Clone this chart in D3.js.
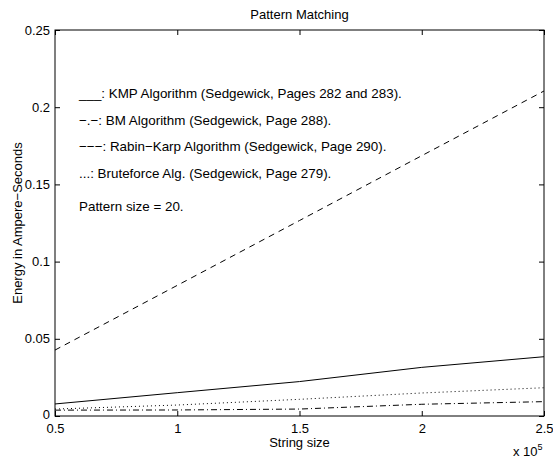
<!DOCTYPE html>
<html>
<head>
<meta charset="utf-8">
<script src="https://cdn.jsdelivr.net/npm/d3@7"></script>
<style>
  html, body { margin: 0; padding: 0; background: #fff; }
  svg { display: block; }
  text { font-family: "Liberation Sans", Arial, Helvetica, sans-serif; fill: #000; }
</style>
</head>
<body>
<svg id="chart" width="553" height="459"></svg>
<script>
// ---- data (string size in units of 10^5) ----
const stringSizes = [0.5, 1, 1.5, 2, 2.5];
const kmp        = [0.0078, 0.0151, 0.0223, 0.0315, 0.0384];
const bm         = [0.0038, 0.0039, 0.0045, 0.0076, 0.0093];
const rabinKarp  = [0.0427, 0.0846, 0.1266, 0.1686, 0.2105];
const bruteforce = [0.0045, 0.0071, 0.0108, 0.0149, 0.0183];

const xTicks = [0.5, 1, 1.5, 2, 2.5];
const xTickLabels = ["0.5", "1", "1.5", "2", "2.5"];
const yTicks = [0, 0.05, 0.1, 0.15, 0.2, 0.25];
const yTickLabels = ["0", "0.05", "0.1", "0.15", "0.2", "0.25"];

const legendLines = [
  "___: KMP Algorithm (Sedgewick, Pages 282 and 283).",
  "\u2212.\u2212: BM Algorithm (Sedgewick, Page 288).",
  "\u2212\u2212\u2212: Rabin\u2212Karp Algorithm (Sedgewick, Page 290).",
  "...: Bruteforce Alg. (Sedgewick, Page 279)."
];
const noteText = "Pattern size = 20.";
const titleText = "Pattern Matching";
const xLabel = "String size";
const yLabel = "Energy in Ampere\u2212Seconds";

const series = [
  { values: kmp,        dash: null },
  { values: bm,         dash: "6,3,1,3" },
  { values: rabinKarp,  dash: "6,5" },
  { values: bruteforce, dash: "1,3" }
];

// ---- layout ----
const L = 55, R = 544, T = 30, B = 416;
const svg = d3.select("#chart");
svg.append("rect").attr("width", 553).attr("height", 459).attr("fill", "#fff");

const x = d3.scaleLinear().domain([0.5, 2.5]).range([L, R]);
const y = d3.scaleLinear().domain([0, 0.25]).range([B, T]);

const fs = 13;
const legendFs = 13.4;

// axes (inward ticks)
const xAxis = d3.axisBottom(x).tickValues(xTicks)
  .tickFormat((d, i) => xTickLabels[i]).tickSize(-5).tickPadding(8);
const yAxis = d3.axisLeft(y).tickValues(yTicks)
  .tickFormat((d, i) => yTickLabels[i]).tickSize(-5).tickPadding(5);
const xTop = d3.axisTop(x).tickValues(xTicks).tickFormat("").tickSize(-5);
const yRight = d3.axisRight(y).tickValues(yTicks).tickFormat("").tickSize(-5);

function style(g) {
  g.select(".domain").remove();
  g.selectAll("line").attr("stroke", "#000").attr("stroke-width", 1);
  g.selectAll("text").attr("font-size", fs)
    .attr("font-family", "'Liberation Sans', Arial, Helvetica, sans-serif").attr("fill", "#000");
}
svg.append("g").attr("transform", `translate(0,${B})`).call(xAxis).call(style);
const yg = svg.append("g").attr("transform", `translate(${L},0)`).call(yAxis).call(style);
// the "0" label sits slightly above the axis corner, as in the reference
yg.selectAll(".tick text").filter(d => d === 0).attr("dy", "0.2em");
svg.append("g").attr("transform", `translate(0,${T})`).call(xTop).call(style);
svg.append("g").attr("transform", `translate(${R},0)`).call(yRight).call(style);

// box
svg.append("rect").attr("x", L).attr("y", T).attr("width", R - L).attr("height", B - T)
  .attr("fill", "none").attr("stroke", "#000").attr("stroke-width", 1);

// lines
const line = d3.line().x((d, i) => x(stringSizes[i])).y(d => y(d));
svg.append("g").selectAll("path").data(series).join("path")
  .attr("d", d => line(d.values))
  .attr("fill", "none").attr("stroke", "#000").attr("stroke-width", 1)
  .attr("stroke-dasharray", d => d.dash);

// in-plot legend text
svg.append("g").selectAll("text").data(legendLines).join("text")
  .attr("x", 79).attr("y", (d, i) => 98 + i * 26.5)
  .attr("font-size", legendFs).text(d => d);
svg.append("text").attr("x", 79).attr("y", 211).attr("font-size", legendFs).text(noteText);

// title and labels
svg.append("text").attr("x", (L + R) / 2).attr("y", 19).attr("text-anchor", "middle")
  .attr("font-size", fs).text(titleText);
svg.append("text").attr("x", (L + R) / 2).attr("y", 447).attr("text-anchor", "middle")
  .attr("font-size", fs).text(xLabel);
svg.append("text").attr("transform", `translate(22,${(T + B) / 2}) rotate(-90)`)
  .attr("text-anchor", "middle").attr("font-size", fs).text(yLabel);

// exponent label
const ex = svg.append("text").attr("x", 513).attr("y", 456).attr("font-size", fs);
ex.append("tspan").text("x 10");
ex.append("tspan").attr("dy", -6).attr("font-size", 9).text("5");
</script>
</body>
</html>
